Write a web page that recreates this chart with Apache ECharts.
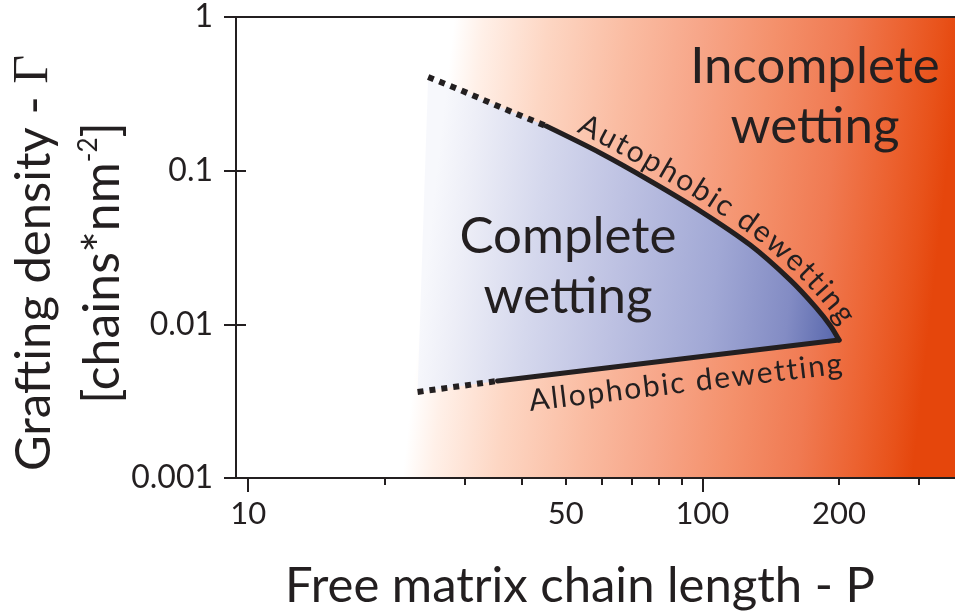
<!DOCTYPE html>
<html>
<head>
<meta charset="utf-8">
<script src="https://cdn.jsdelivr.net/npm/echarts@6/dist/echarts.min.js"></script>
<style>
  html, body { margin: 0; padding: 0; background: #ffffff; }
  #chart { width: 955px; height: 614px; }
</style>
</head>
<body>
<div id="chart"></div>
<script>
// Wetting phase diagram: free matrix chain length P vs. grafting density Γ (chains/nm²)

// Autophobic dewetting boundary (upper), dashed extrapolation then measured part
const autophobicDashed = [[24.9, 0.407], [29.3, 0.335], [37.2, 0.248], [45.3, 0.195]];
const autophobicSolid = [[45.3, 0.195], [59.6, 0.1303], [76.8, 0.0857], [99.0, 0.0546],
  [127.5, 0.0328], [156.2, 0.0194], [177.4, 0.0130], [191.4, 0.0098], [200, 0.0079]];

// Allophobic dewetting boundary (lower)
const allophobicDashed = [[23.6, 0.00363], [35.4, 0.00428]];
const allophobicSolid = [[35.4, 0.00428], [200, 0.0079]];

// Axis ticks and labels
const xLabelValues = [10, 50, 100, 200];
const xMajorTicks = [10, 100];
const xMinorTicks = [20, 30, 40, 50, 60, 70, 80, 90, 200, 300];
const yLabelValues = [0.001, 0.01, 0.1, 1];

// Region labels
const completeLabel = 'Complete\nwetting';
const incompleteLabel = 'Incomplete\nwetting';
const autophobicText = 'Autophobic dewetting';
const allophobicText = 'Allophobic dewetting';

// Complete-wetting region: upper boundary left→right, then lower boundary right→left
const completeRegion = autophobicDashed
  .concat(autophobicSolid.slice(1))
  .concat(allophobicSolid.slice().reverse().slice(1))
  .concat(allophobicDashed.slice().reverse().slice(1));

const INK = '#231F20';
const FONT = 'Lato, "Open Sans", "Noto Sans", sans-serif';

const chart = echarts.init(document.getElementById('chart'), null, { renderer: 'canvas' });

const fmt = v => String(Number(Number(v).toPrecision(3)));

const option = {
  animation: false,
  grid: {
    left: 236, right: 0, top: 17, bottom: 136,
    containLabel: false,
    outerBoundsMode: 'none',
    show: true,
    borderWidth: 0,
    backgroundColor: {
      type: 'linear', x: 0, y: 0, x2: 1, y2: 0.176,
      colorStops: [
        { offset: 0.00, color: '#FFFFFF' },
        { offset: 0.30, color: '#FFFFFF' },
        { offset: 0.34, color: '#FFF0E8' },
        { offset: 0.43, color: '#FDD6C3' },
        { offset: 0.54, color: '#FABCA2' },
        { offset: 0.64, color: '#F7A689' },
        { offset: 0.74, color: '#F4916C' },
        { offset: 0.84, color: '#F07A52' },
        { offset: 0.92, color: '#EC6230' },
        { offset: 0.97, color: '#E8521A' },
        { offset: 1.00, color: '#E5460C' }
      ]
    }
  },
  xAxis: [
    {
      type: 'log', logBase: 10, min: 9.4, max: 360, position: 'bottom',
      axisLine: { show: true, lineStyle: { color: INK, width: 2 } },
      axisTick: { show: true, inside: false, length: 14, customValues: xMajorTicks,
        lineStyle: { color: INK, width: 2 } },
      axisLabel: { show: true, customValues: xLabelValues, formatter: fmt, margin: 20,
        color: INK, fontSize: 31, fontFamily: FONT },
      splitLine: { show: false }, minorTick: { show: false }
    },
    {
      type: 'log', logBase: 10, min: 9.4, max: 360, position: 'bottom',
      axisLine: { show: false },
      axisTick: { show: true, inside: false, length: 7, customValues: xMinorTicks,
        lineStyle: { color: INK, width: 2 } },
      axisLabel: { show: false }, splitLine: { show: false }
    },
    {
      type: 'log', logBase: 10, min: 9.4, max: 360, position: 'top',
      axisLine: { show: true, lineStyle: { color: INK, width: 2 } },
      axisTick: { show: false }, axisLabel: { show: false }, splitLine: { show: false }
    }
  ],
  yAxis: [
    {
      type: 'log', logBase: 10, min: 0.001, max: 1, position: 'left',
      axisLine: { show: true, lineStyle: { color: INK, width: 2 } },
      axisTick: { show: true, inside: false, length: 12, customValues: yLabelValues,
        lineStyle: { color: INK, width: 2 } },
      axisLabel: { show: true, customValues: yLabelValues, formatter: fmt, margin: 23,
        color: INK, fontSize: 32, fontFamily: FONT },
      splitLine: { show: false }, minorTick: { show: false }
    },
    {
      type: 'log', logBase: 10, min: 0.001, max: 1, position: 'left',
      axisLine: { show: false },
      axisTick: { show: true, inside: true, length: 10, customValues: yLabelValues,
        lineStyle: { color: INK, width: 2 } },
      axisLabel: { show: false }, splitLine: { show: false }
    }
  ],
  series: [
    {
      // shaded complete-wetting region
      type: 'custom',
      coordinateSystem: 'cartesian2d',
      xAxisIndex: 0, yAxisIndex: 0,
      silent: true, z: 1,
      data: completeRegion,
      renderItem: function (params, api) {
        if (params.dataIndex !== 0) return null;
        const pts = completeRegion.map(p => api.coord(p));
        const xs = pts.map(p => p[0]);
        const x0 = Math.min.apply(null, xs), x1 = Math.max.apply(null, xs);
        const yRef = pts[autophobicDashed.length + autophobicSolid.length - 2][1];
        const fill = new echarts.graphic.LinearGradient(
          x0, yRef, x1, yRef + (x1 - x0) * 52 / 461,
          [
            { offset: 0.00, color: '#F7F8FC' },
            { offset: 0.08, color: '#EDEEF7' },
            { offset: 0.25, color: '#D5D8ED' },
            { offset: 0.45, color: '#BDC1E2' },
            { offset: 0.68, color: '#A1A8D5' },
            { offset: 0.86, color: '#838CC4' },
            { offset: 1.00, color: '#5262A9' }
          ], true);
        return { type: 'polygon', shape: { points: pts }, style: { fill: fill } };
      }
    },
    {
      type: 'line', data: autophobicDashed, symbol: 'none', z: 3, silent: true,
      lineStyle: { color: INK, width: 6, type: [6, 6], cap: 'butt' }
    },
    {
      type: 'line', data: autophobicSolid, symbol: 'none', z: 3, silent: true, smooth: 0.3,
      lineStyle: { color: INK, width: 5, cap: 'round', join: 'miter' }
    },
    {
      type: 'line', data: allophobicDashed, symbol: 'none', z: 3, silent: true,
      lineStyle: { color: INK, width: 6, type: [6, 6], cap: 'butt' }
    },
    {
      type: 'line', data: allophobicSolid, symbol: 'none', z: 3, silent: true,
      lineStyle: { color: INK, width: 5, cap: 'round', join: 'miter' }
    }
  ]
};

chart.setOption(option);

// ---- text that follows a boundary curve ----
function densify(pts, n) {
  const out = [];
  for (let i = 0; i < pts.length - 1; i++) {
    const p0 = pts[Math.max(i - 1, 0)], p1 = pts[i], p2 = pts[i + 1], p3 = pts[Math.min(i + 2, pts.length - 1)];
    for (let k = 0; k < n; k++) {
      const t = k / n, t2 = t * t, t3 = t2 * t;
      out.push([0, 1].map(j => 0.5 * ((2 * p1[j]) + (-p0[j] + p2[j]) * t +
        (2 * p0[j] - 5 * p1[j] + 4 * p2[j] - p3[j]) * t2 +
        (-p0[j] + 3 * p1[j] - 3 * p2[j] + p3[j]) * t3)));
    }
  }
  out.push(pts[pts.length - 1]);
  return out;
}

const measureCtx = document.createElement('canvas').getContext('2d');

function textAlong(text, dataPts, xStart, xEnd, offset, side, fontSize) {
  const base = densify(dataPts.map(p => chart.convertToPixel({ gridIndex: 0 }, p)), 24);
  const off = base.map((p, i) => {
    const a = base[Math.max(i - 1, 0)], b = base[Math.min(i + 1, base.length - 1)];
    let tx = b[0] - a[0], ty = b[1] - a[1];
    const L = Math.hypot(tx, ty) || 1; tx /= L; ty /= L;
    const nx = side * ty, ny = -side * tx;
    return { x: p[0] + nx * offset, y: p[1] + ny * offset, bx: p[0] };
  });
  const cum = [0];
  for (let i = 1; i < off.length; i++) cum.push(cum[i - 1] + Math.hypot(off[i].x - off[i - 1].x, off[i].y - off[i - 1].y));
  const sAtX = x => { for (let i = 0; i < off.length; i++) if (off[i].bx >= x) return cum[i]; return cum[cum.length - 1]; };
  const at = s => {
    let i = 1;
    while (i < cum.length - 1 && cum[i] < s) i++;
    const a = off[i - 1], b = off[i];
    const f = (s - cum[i - 1]) / ((cum[i] - cum[i - 1]) || 1);
    return { x: a.x + (b.x - a.x) * f, y: a.y + (b.y - a.y) * f, ang: Math.atan2(b.y - a.y, b.x - a.x) };
  };
  measureCtx.font = fontSize + 'px Lato';
  const chars = Array.from(text);
  const widths = chars.map(c => measureCtx.measureText(c).width);
  const total = widths.reduce((s, w) => s + w, 0);
  const s0 = sAtX(xStart), s1 = sAtX(xEnd);
  const gap = ((s1 - s0) - total) / (chars.length - 1);
  const els = [];
  let s = s0;
  chars.forEach((c, i) => {
    const p = at(s + widths[i] / 2);
    if (c !== ' ') {
      els.push({
        type: 'text', x: p.x, y: p.y, rotation: -p.ang, z: 10, silent: true,
        style: { text: c, fill: INK, fontSize: fontSize, fontFamily: FONT,
          align: 'center', verticalAlign: 'middle' }
      });
    }
    s += widths[i] + gap;
  });
  return els;
}

const graphics = []
  .concat(textAlong(autophobicText, autophobicSolid, 571, 833, 18, 1, 30))
  .concat(textAlong(allophobicText, allophobicSolid, 518, 832, 24, -1, 30));

graphics.push(
  {
    type: 'text', x: 568, y: 267, z: 10, silent: true,
    style: { text: completeLabel, fill: INK, fontSize: 51, fontFamily: FONT,
      lineHeight: 60, align: 'center', verticalAlign: 'middle' }
  },
  {
    type: 'text', x: 815, y: 97, z: 10, silent: true,
    style: { text: incompleteLabel, fill: INK, fontSize: 51, fontFamily: FONT,
      lineHeight: 60, align: 'center', verticalAlign: 'middle' }
  },
  {
    // x-axis title
    type: 'text', x: 580, y: 586, z: 10, silent: true,
    style: { text: 'Free matrix chain length - P', fill: INK, fontSize: 49, fontFamily: FONT,
      align: 'center', verticalAlign: 'middle' }
  },
  {
    // y-axis title, first line
    type: 'text', x: 34, y: 263, rotation: Math.PI / 2, z: 10, silent: true,
    style: {
      text: '{a|Grafting density - }{g|Γ}',
      align: 'center', verticalAlign: 'middle',
      rich: {
        a: { fontSize: 49, fontFamily: FONT, fill: INK, color: INK, lineHeight: 54 },
        g: { fontSize: 50, fontFamily: '"Liberation Serif", "DejaVu Serif", serif', fill: INK, color: INK, lineHeight: 54 }
      }
    }
  },
  {
    // y-axis title, unit line
    type: 'text', x: 103, y: 263, rotation: Math.PI / 2, z: 10, silent: true,
    style: {
      text: '{a|[chains*nm}{s|-2}{a|]}',
      align: 'center', verticalAlign: 'middle',
      rich: {
        a: { fontSize: 50, fontFamily: FONT, fill: INK, color: INK, lineHeight: 54 },
        s: { fontSize: 26, fontFamily: FONT, fill: INK, color: INK, lineHeight: 28, verticalAlign: 'top' }
      }
    }
  }
);

chart.setOption({ graphic: { elements: graphics } });
</script>
</body>
</html>
